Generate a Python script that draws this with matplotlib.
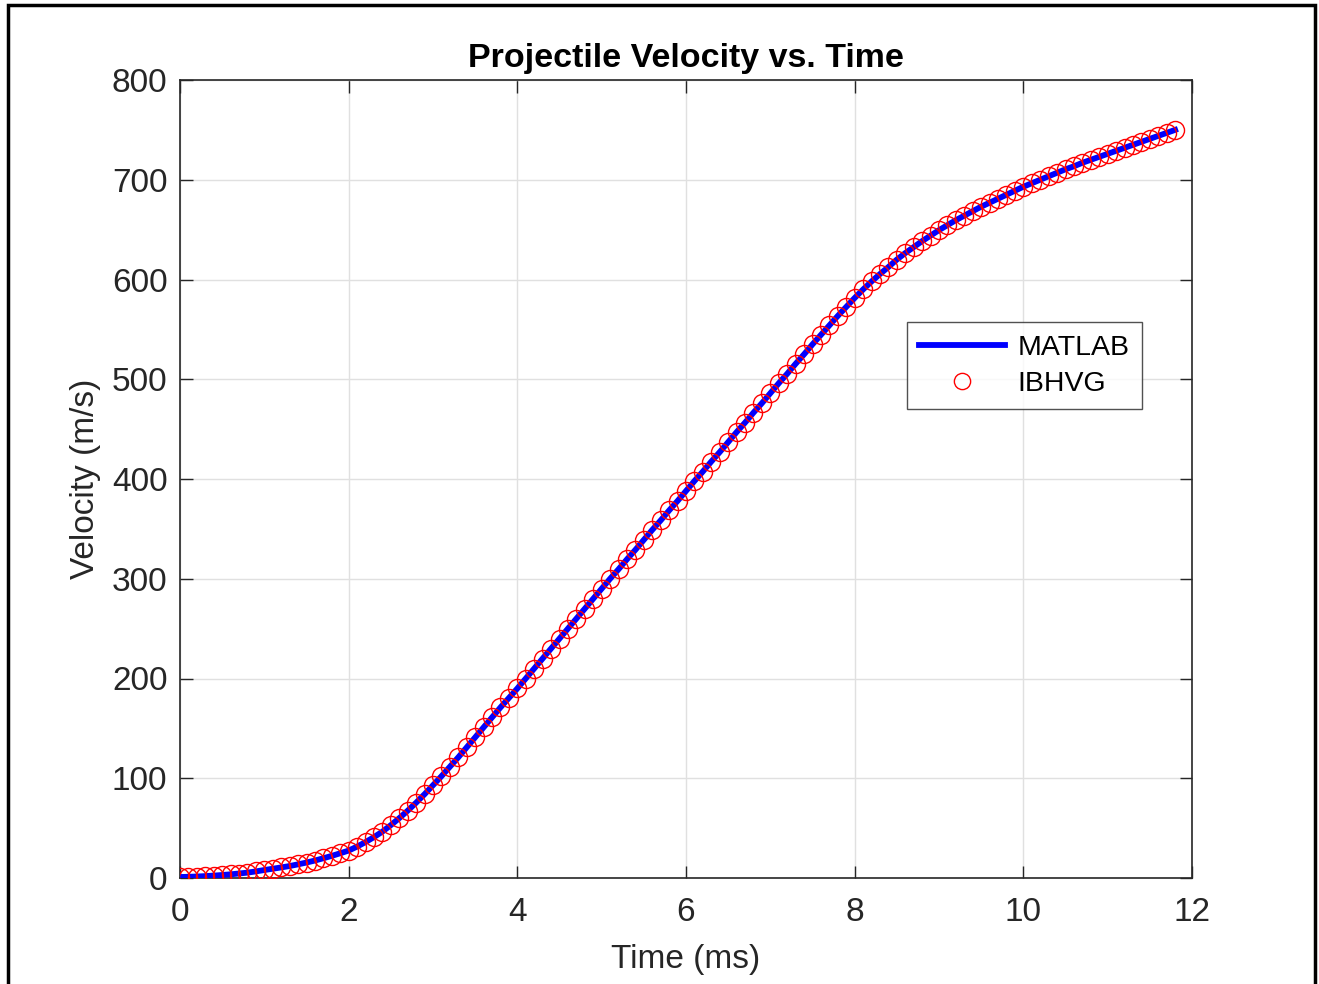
import matplotlib
matplotlib.use('Agg')
import matplotlib.pyplot as plt
from matplotlib.patches import Rectangle

plt.rcParams['font.family'] = ['Liberation Sans', 'DejaVu Sans']

# IBHVG output (0.1 ms steps)
time_ms = [round(0.1 * i, 1) for i in range(119)]
velocity = [
    1.0, 1.2, 1.5, 1.9, 2.4, 3.0, 3.7, 4.5, 5.4, 6.6,
    8.0, 9.3, 10.6, 12.0, 13.7, 15.5, 17.5, 19.8, 22.2, 24.8,
    27.5, 31.5, 36.0, 41.0, 46.5, 53.0, 60.0, 67.5, 75.5, 84.0,
    93.0, 102.0, 111.5, 121.0, 131.0, 141.0, 151.0, 161.0, 171.0, 180.5,
    190.0, 200.0, 210.0, 220.0, 230.0, 240.0, 250.0, 260.0, 270.0, 280.0,
    290.0, 300.0, 309.5, 319.5, 329.0, 339.0, 349.0, 358.5, 368.5, 378.0,
    388.0, 398.0, 407.5, 417.5, 427.0, 437.0, 447.0, 456.5, 466.5, 476.0,
    486.0, 496.0, 505.5, 515.5, 525.0, 535.0, 544.5, 554.0, 563.5, 572.5,
    581.5, 590.0, 598.0, 605.5, 612.5, 620.0, 626.5, 632.5, 638.5, 644.0,
    649.5, 654.5, 659.5, 664.0, 668.5, 673.0, 677.0, 681.0, 685.0, 689.0,
    693.0, 696.5, 700.0, 703.5, 707.0, 710.5, 713.5, 717.0, 720.0, 723.0,
    726.0, 729.0, 732.0, 735.0, 738.0, 741.0, 744.0, 747.0, 750.0,
]

fig = plt.figure(figsize=(13.19, 9.84), dpi=100)
ax = fig.add_axes([180 / 1319, 106 / 984, 1012 / 1319, 798 / 984])

ax.plot(time_ms, velocity, color='#0000ff', linewidth=4.2, label='MATLAB', zorder=3)
ax.plot(time_ms, velocity, linestyle='none', marker='o', markersize=13,
        markerfacecolor='none', markeredgecolor='#ff0000', markeredgewidth=1.0,
        label='IBHVG', zorder=4)

ax.set_xlim(0, 12)
ax.set_ylim(0, 800)
ax.set_xticks(range(0, 13, 2))
ax.set_yticks(range(0, 801, 100))

axis_col = '#262626'
for s in ax.spines.values():
    s.set_color(axis_col)
    s.set_linewidth(1.2)
ax.tick_params(direction='in', length=9, width=1.0, colors=axis_col,
               labelsize=24, top=True, right=True)
ax.tick_params(axis='x', pad=14)
ax.tick_params(axis='y', pad=9)
ax.grid(True, color='#e0e0e0', linewidth=1.0)
ax.set_axisbelow(True)

ax.set_xlabel('Time (ms)', fontsize=24, color=axis_col, labelpad=11)
ax.set_ylabel('Velocity (m/s)', fontsize=24, color=axis_col, labelpad=8)
ax.set_title('Projectile Velocity vs. Time', fontsize=24.5, fontweight='bold', pad=9)

leg = ax.legend(loc='upper left', bbox_to_anchor=(0.718, 0.697), fontsize=20.5,
                frameon=True, fancybox=False, edgecolor=axis_col,
                handlelength=3.0, borderpad=0.45, labelspacing=0.35,
                handletextpad=0.45, borderaxespad=0, markerscale=0.9)
leg.get_frame().set_linewidth(1.0)

# black frame around the whole picture
fig.patches.append(Rectangle((8 / 1319, -0.01), 1307 / 1319, 1.005,
                             transform=fig.transFigure, fill=False,
                             edgecolor='black', linewidth=2.5))

fig.savefig('out.png', dpi=100)
